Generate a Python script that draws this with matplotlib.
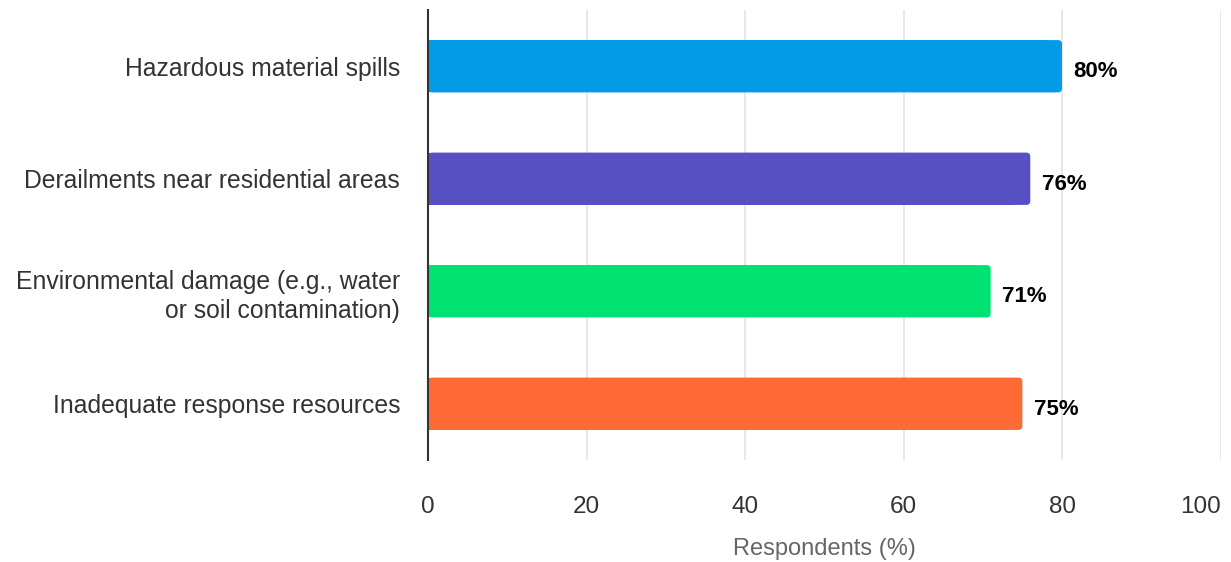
import matplotlib
matplotlib.use("Agg")
import matplotlib.pyplot as plt
from matplotlib.patches import FancyBboxPatch

categories = ["Hazardous material spills",
              "Derailments near residential areas",
              "Environmental damage (e.g., water\nor soil contamination)",
              "Inadequate response resources"]
values = [80, 76, 71, 75]
colors = ["#039be5", "#5750c4", "#00e272", "#fe6a35"]
xticks = [0, 20, 40, 60, 80, 100]
xlabel = "Respondents (%)"

plt.rcParams['font.family'] = ['Liberation Sans', 'DejaVu Sans']

fig = plt.figure(figsize=(12.31, 5.62), dpi=100)
ax = fig.add_axes([428/1231, 1-460/562, (1220.5-428)/1231, 450/562])

ypos = list(range(len(categories)))
h = 0.465
# plain bars (square left end), slightly shorter
ax.barh(ypos, [v - 2 for v in values], height=h, color=colors, zorder=3)
# rounded full-length bars for rounded right corners
px_x = 100 / 792.5
px_y = 4 / 450
for y, v, c in zip(ypos, values, colors):
    p = FancyBboxPatch((0, y - h / 2), v, h,
                       boxstyle="round,pad=0,rounding_size=%f" % (4 * px_x),
                       mutation_aspect=px_y / px_x,
                       facecolor=c, edgecolor='none', zorder=3)
    ax.add_patch(p)
    ax.text(v + 1.45, y + 0.05, f"{v}%", va='center', ha='left',
            fontsize=16, fontweight='bold', color='black')

ax.set_xlim(0, 100)
ax.set_ylim(3.5, -0.5)
ax.set_yticks(ypos)
ax.set_yticklabels(categories, fontsize=17.8, color='#333333', linespacing=1.28)
ax.set_xticks(xticks)
ax.set_xticklabels([str(t) for t in xticks], fontsize=17.5, color='#333333')
ax.get_xticklabels()[-1].set_horizontalalignment('right')
ax.tick_params(axis='both', length=0)
ax.tick_params(axis='x', pad=26)
ax.tick_params(axis='y', pad=20)
ax.grid(axis='x', color='#e6e6e6', linewidth=1.3, zorder=0)
for s in ['top', 'right', 'bottom']:
    ax.spines[s].set_visible(False)
ax.spines['left'].set_color('#333333')
ax.spines['left'].set_linewidth(1.5)
ax.spines['left'].set_zorder(4)
ax.set_xlabel(xlabel, fontsize=17, color='#666666', labelpad=14)

fig.savefig("out.png", dpi=100)
